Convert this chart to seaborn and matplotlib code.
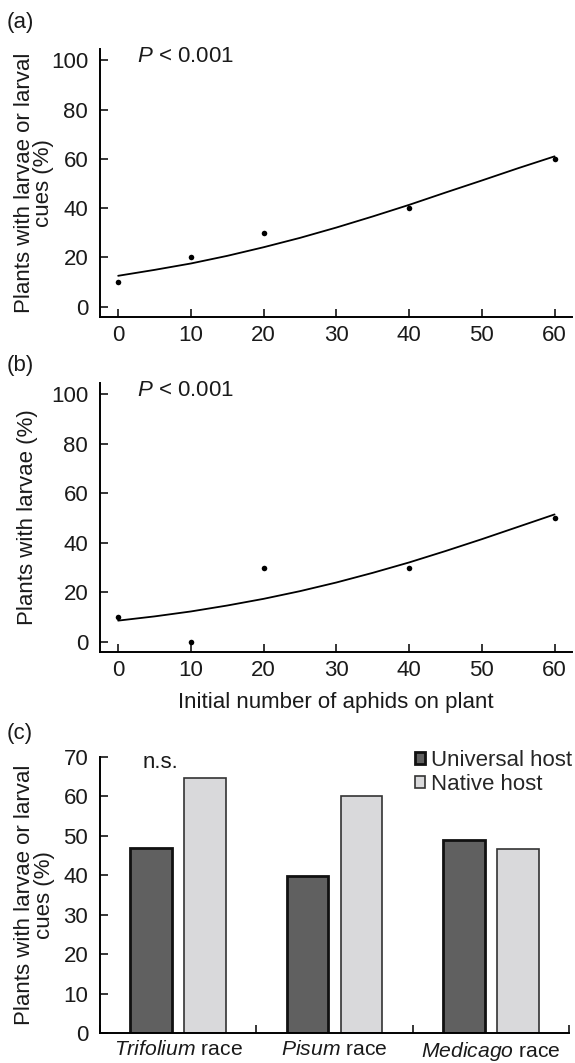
import matplotlib
matplotlib.use("Agg")
import matplotlib.pyplot as plt
import pandas as pd
import seaborn as sns

# panels (a) and (b): observed points
aphids = [0, 10, 20, 40, 60]
cues_pct = [10, 20, 30, 40, 60]
larvae_pct = [10, 0, 30, 30, 50]

# fitted curves
fit_aphids = [0, 5, 10, 15, 20, 25, 30, 35, 40, 45, 50, 55, 60]
fit_cues = [12.5, 14.9, 17.5, 20.6, 24.1, 27.9, 32.1, 36.6, 41.3, 46.3, 51.2, 56.2, 61.0]
fit_larvae = [8.6, 10.3, 12.3, 14.7, 17.4, 20.5, 24.0, 27.9, 32.1, 36.7, 41.5, 46.5, 51.5]

# panel (c)
races = ["Trifolium", "Pisum", "Medicago"]
hosts = ["Universal host", "Native host"]
universal_host = [46.9, 39.9, 48.9]
native_host = [64.6, 60.1, 46.6]

sns.set_theme(style="ticks")
plt.rcParams["font.family"] = ["Liberation Sans", "DejaVu Sans"]
plt.rcParams["mathtext.fontset"] = "custom"
plt.rcParams["mathtext.it"] = "Liberation Sans:italic"
plt.rcParams["mathtext.rm"] = "Liberation Sans"

FS = 16
TXT = "#1a1a1a"
ylab_two = "Plants with larvae or larval\ncues (%)"


def style_axes(ax):
    ax.spines["top"].set_visible(False)
    ax.spines["right"].set_visible(False)
    for s in ["left", "bottom"]:
        ax.spines[s].set_linewidth(1.4)
        ax.spines[s].set_color("black")
    ax.tick_params(which="both", direction="in", length=5.6, width=1.1,
                   labelsize=FS, color="black", labelcolor=TXT)
    ax.tick_params(axis="y", pad=8.5)
    ax.tick_params(axis="x", pad=6)


fig = plt.figure(figsize=(5.75, 10.63), dpi=100)

ax_a = fig.add_axes([0.1739, 0.7021, 0.8209, 0.2518])
ax_b = fig.add_axes([0.1739, 0.3866, 0.8209, 0.2531])
ax_c = fig.add_axes([0.1739, 0.0279, 0.8157, 0.2600])

for ax, pts, fit in [(ax_a, cues_pct, fit_cues), (ax_b, larvae_pct, fit_larvae)]:
    sns.lineplot(x=fit_aphids, y=fit, color="black", linewidth=1.3, ax=ax)
    sns.scatterplot(x=aphids, y=pts, color="black", s=16, linewidth=0,
                    ax=ax, zorder=3)
    ax.set_xlim(-2.5, 62.4)
    ax.set_ylim(-4.1, 104.6)
    ax.set_xticks(range(0, 61, 10))
    ax.set_yticks(range(0, 101, 20))
    ax.text(2.6, 101.5, "$P$ < 0.001", fontsize=FS, ha="left", va="center",
            color=TXT)
    style_axes(ax)

ax_a.set_ylabel(ylab_two, fontsize=FS, linespacing=0.9, va="center", color=TXT)
ax_a.yaxis.set_label_coords(-0.14, 0.5)
ax_b.set_ylabel("Plants with larvae (%)", fontsize=FS, va="center", color=TXT)
ax_b.yaxis.set_label_coords(-0.154, 0.5)
ax_b.set_xlabel("Initial number of aphids on plant", fontsize=FS,
                color=TXT, labelpad=8)

# panel (c)
df = pd.DataFrame({
    "race": races * 2,
    "host": [hosts[0]] * 3 + [hosts[1]] * 3,
    "pct": universal_host + native_host,
})
sns.barplot(data=df, x="race", y="pct", hue="host",
            palette=["#606060", "#d9d9db"], saturation=1,
            width=0.69, gap=0.23, legend=False, ax=ax_c)
for cont, ec, lw in zip(ax_c.containers, ["#111111", "#333333"], [2.0, 1.2]):
    for p in cont:
        p.set_edgecolor(ec)
        p.set_linewidth(lw)

ax_c.set_xlim(-0.5, 2.5)
ax_c.set_ylim(0, 70)
ax_c.set_yticks(range(0, 71, 10))
ax_c.set_xticks([-0.5, 0.5, 1.5, 2.5])
ax_c.set_xticklabels([])
ax_c.set_xticks([0, 1, 2], minor=True)
ax_c.set_xticklabels([r"$\mathit{%s}$ race" % r for r in races], minor=True)
style_axes(ax_c)
ax_c.tick_params(axis="x", which="minor", length=0, pad=5, labelsize=15.2)
ax_c.set_xlabel("")
ax_c.set_ylabel(ylab_two, fontsize=FS, linespacing=0.9, va="center", color=TXT)
ax_c.yaxis.set_label_coords(-0.14, 0.5)
ax_c.text(-0.116, 68.5, "n.s.", fontsize=FS, ha="center", va="center", color=TXT)
ax_c.legend(ax_c.containers, hosts, loc="upper right",
            bbox_to_anchor=(1.006, 1.025), frameon=False, fontsize=FS,
            handlelength=0.45, handleheight=0.45, handletextpad=0.25,
            labelspacing=0.12, borderpad=0, borderaxespad=0)

fig.text(0.012, 0.9788, "(a)", fontsize=FS, ha="left", va="center", color=TXT)
fig.text(0.012, 0.6566, "(b)", fontsize=FS, ha="left", va="center", color=TXT)
fig.text(0.012, 0.3104, "(c)", fontsize=FS, ha="left", va="center", color=TXT)

fig.savefig("out.png", dpi=100)
